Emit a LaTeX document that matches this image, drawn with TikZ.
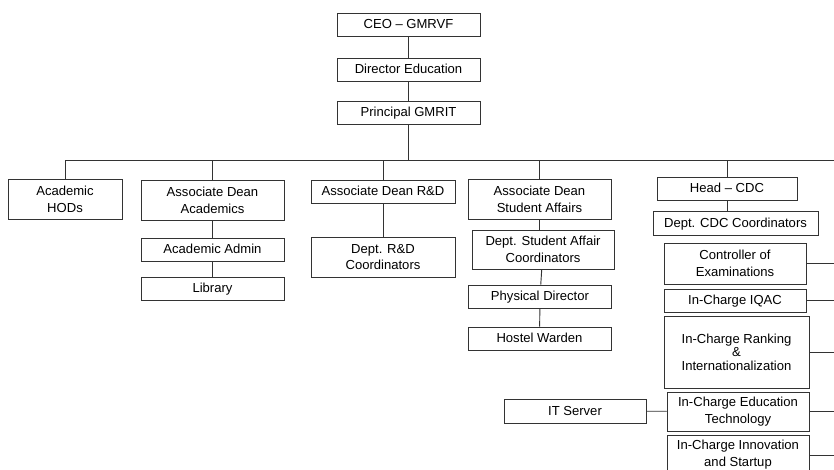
\documentclass[tikz,border=0pt]{standalone}
\usepackage{fontspec}
\setmainfont{Liberation Sans}
\tikzset{
  caja/.style={draw=black!80, line width=0.7pt, align=center, inner sep=0pt,
    font=\fontsize{9.8}{12.6}\selectfont, text height=7pt, text depth=0.3pt,
    minimum width=107.25pt, minimum height=17.25pt},
  varias/.style={text height=, text depth=},
  doble/.style={varias, minimum height=30pt},
  linea/.style={draw=black!80, line width=0.7pt}
}
\begin{document}
\begin{tikzpicture}[x=0.75pt,y=-0.75pt]
    \clip (0,0) rectangle (834,470);
    \coordinate (bus) at (408.5,160);
    \coordinate (derecha) at (834,160);
    % Cajas
    \node[caja] (ceo) at (408.5,24.5) {CEO -- GMRVF};
    \node[caja] (dir) at (408.5,69.5) {Director Education};
    \node[caja] (prin) at (408.5,112.5) {Principal GMRIT};
    \node[caja,doble,minimum width=85.5pt] (hods) at (65,199) {Academic\\HODs};
    \node[caja,doble] (ada) at (212.5,200) {Associate Dean\\Academics};
    \node[caja,minimum width=108pt] (adrd) at (383,191.5) {Associate Dean R\&D};
    \node[caja,doble] (adsa) at (539.5,199) {Associate Dean\\Student Affairs};
    \node[caja,minimum width=105pt] (hcdc) at (727,188.5) {Head -- CDC};
    \node[caja,minimum width=123.75pt,minimum height=18pt] (dcdc) at (735.5,223) {Dept. CDC Coordinators};
    \node[caja] (admin) at (212.5,249.5) {Academic Admin};
    \node[caja] (lib) at (212.5,288.5) {Library};
    \node[caja,doble,minimum width=108pt] (drd) at (383,257) {Dept. R\&D\\Coordinators};
    \node[caja,varias,minimum width=106.5pt,minimum height=29.25pt] (dsa) at (543,249.5) {Dept. Student Affair\\Coordinators};
    \node[caja] (pd) at (540,296.5) {Physical Director};
    \node[caja] (hw) at (539.5,338.5) {Hostel Warden};
    \node[caja,varias,minimum width=106.5pt,minimum height=30.75pt] (coe) at (735,263.5) {Controller of\\Examinations};
    \node[caja,minimum width=106.5pt] (iqac) at (735,300.5) {In-Charge IQAC};
    \node[caja,varias,minimum width=108.75pt,minimum height=54pt,font=\fontsize{9.8}{10}\selectfont] (rank) at (736.5,352) {In-Charge Ranking\\\&\\Internationalization};
    \node[caja,varias,minimum width=106.5pt,minimum height=29.25pt] (edtech) at (738,411.5) {In-Charge Education\\Technology};
    \node[caja,minimum width=106.5pt,minimum height=18pt] (it) at (575,411) {IT Server};
    \node[caja,minimum width=106.5pt,doble] (innov) at (738,455) {In-Charge Innovation\\and Startup};
    % Líneas
    \path[linea] (ceo) -- (dir);
    \path[linea] (dir) -- (prin);
    \path[linea] (prin) -- (bus) -- (derecha);
    \path[linea] (bus) -| (hods.north);
    \path[linea] (bus) -| (ada.north);
    \path[linea] (bus) -| (adrd.north);
    \path[linea] (bus) -| (adsa.north);
    \path[linea] (bus) -| (hcdc.north);
    \path[linea] (ada) -- (admin);
    \path[linea] (admin) -- (lib);
    \path[linea] (adrd) -- (drd);
    \path[linea] (adsa.south) -- (adsa.south |- dsa.north);
    \path[linea] (dsa) -- (pd);
    \path[linea] (pd) -- (hw);
    \path[linea] (hcdc.south) -- (hcdc.south |- dcdc.north);
    \path[linea] (it) -- (edtech);
    \foreach \n in {coe,iqac,rank,edtech,innov}
      \path[linea] (\n.east) -- (\n.east -| derecha);
\end{tikzpicture}
\end{document}
